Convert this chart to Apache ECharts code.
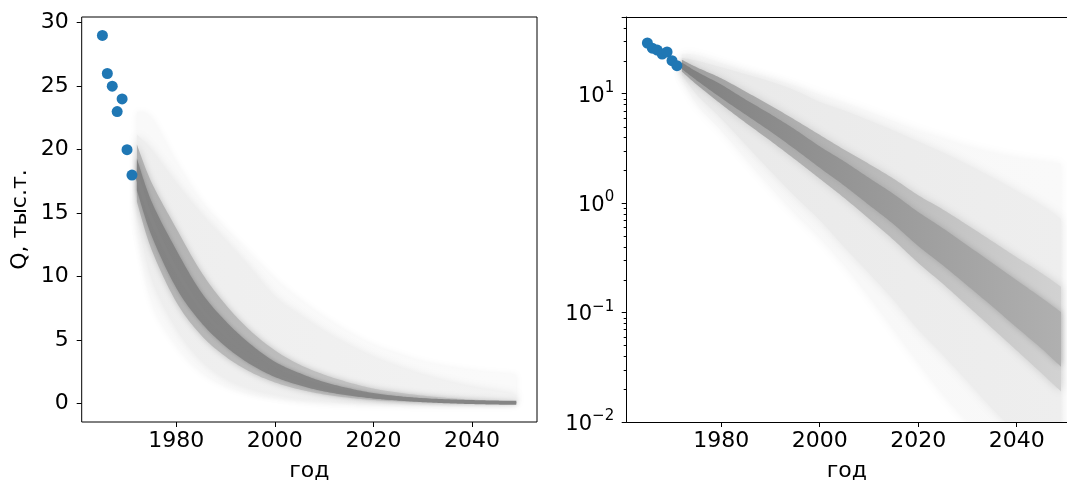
<!DOCTYPE html>
<html><head><meta charset="utf-8">
<script src="https://cdn.jsdelivr.net/npm/echarts@6/dist/echarts.min.js"></script>
<style>html,body{margin:0;padding:0;background:#fff;overflow:hidden}#c{width:1067px;height:487px}</style>
</head><body><div id="c"></div>
<script>
// observed data
const obsYears = [1965, 1966, 1967, 1968, 1969, 1970, 1971];
const obsQ = [29, 26, 25, 23, 24, 20, 18];
// simulated trajectories, summarised as bands
const simYears = [1972, 1975, 1980, 1985, 1990, 1995, 2000, 2005, 2010, 2015, 2020, 2025, 2030, 2035, 2040, 2045, 2049];
const simMedian = [18, 14.5, 10.5, 7.5, 5.4, 3.8, 2.65, 1.85, 1.28, 0.88, 0.58, 0.4, 0.27, 0.18, 0.12, 0.08, 0.057];
const coreLo = [16.8, 13.2, 9.1, 6.4, 4.5, 3.1, 2.1, 1.44, 0.96, 0.64, 0.405, 0.27, 0.176, 0.114, 0.073, 0.047, 0.032];
const coreHi = [19.3, 15.9, 12.1, 8.8, 6.5, 4.7, 3.3, 2.4, 1.7, 1.21, 0.83, 0.59, 0.41, 0.285, 0.197, 0.137, 0.101];
const midLo = [15.9, 12.1, 8.0, 5.4, 3.7, 2.5, 1.67, 1.11, 0.72, 0.46, 0.284, 0.183, 0.115, 0.072, 0.045, 0.028, 0.019];
const midHi = [20.4, 17.4, 13.8, 10.4, 7.8, 5.75, 4.2, 3.07, 2.28, 1.67, 1.18, 0.875, 0.63, 0.45, 0.32, 0.23, 0.172];
const wideLo = [14.8, 9.8, 5.9, 3.4, 1.96, 1.15, 0.70, 0.395, 0.228, 0.13, 0.07, 0.041, 0.0235, 0.0133, 0.0079, 0.0046, 0.0031];
const wideHi = [21.2, 20.0, 17.4, 15.0, 12.9, 10.7, 8.4, 7.0, 5.7, 4.6, 3.65, 2.9, 2.25, 1.72, 1.29, 0.96, 0.72];
const extLo = [13.8, 8, 4.6, 2.5, 1.4, 0.8, 0.48, 0.27, 0.14, 0.07, 0.035, 0.018, 0.01, 0.0055, 0.003, 0.002, 0.0012];
const extHi = [23, 22.5, 19, 16, 13.8, 11.8, 9.8, 8.2, 6.8, 5.6, 4.6, 3.9, 3.3, 2.9, 2.6, 2.4, 2.3];
// ticks
const xTicks = [1980, 2000, 2020, 2040];
const yTicksLin = [0, 5, 10, 15, 20, 25, 30];
const logMinorTicks = [0.02,0.03,0.04,0.05,0.06,0.07,0.08,0.09,0.2,0.3,0.4,0.5,0.6,0.7,0.8,0.9,2,3,4,5,6,7,8,9,20,30,40];

const X_MIN = 1960.8, X_MAX = 2053.2;
const X_MAX_R = 2050.22; // right panel is cut by the image edge
const FONT = 'DejaVu Sans';

function grad(a, b) {
  return new echarts.graphic.LinearGradient(0, 0, 1, 0, [{offset: 0, color: a}, {offset: 1, color: b}]);
}
// Catmull-Rom drawing of a pixel polyline (rendering only)
function spline(pts) {
  const out = [];
  const n = pts.length;
  for (let i = 0; i < n - 1; i++) {
    const p0 = pts[Math.max(i - 1, 0)], p1 = pts[i], p2 = pts[i + 1], p3 = pts[Math.min(i + 2, n - 1)];
    const steps = 14;
    for (let s = 0; s < steps; s++) {
      const t = s / steps, t2 = t * t, t3 = t2 * t;
      const f = (a, b, c, d) => 0.5 * ((2 * b) + (-a + c) * t + (2 * a - 5 * b + 4 * c - d) * t2 + (-a + 3 * b - 3 * c + d) * t3);
      out.push([f(p0[0], p1[0], p2[0], p3[0]), f(p0[1], p1[1], p2[1], p3[1])]);
    }
  }
  out.push(pts[n - 1].slice());
  return out;
}
function bandSeries(ax, lo, hi, cL, cR, blur, shadow) {
  return {type: 'custom', xAxisIndex: ax, yAxisIndex: ax, clip: true, silent: true,
    data: simYears.map((y, i) => [y, lo[i], hi[i]]),
    encode: {x: 0, y: [1, 2]},
    renderItem: function (params, api) {
      if (params.dataIndex !== 0) return null;
      const up = spline(simYears.map((y, i) => api.coord([y, hi[i]])));
      const dn = spline(simYears.map((y, i) => api.coord([y, lo[i]])));
      return {type: 'polygon', shape: {points: up.concat(dn.reverse())},
        style: {fill: grad(cL, cR), stroke: null, shadowBlur: blur, shadowColor: shadow}};
    }};
}
function medianSeries(ax, width, color) {
  return {type: 'custom', xAxisIndex: ax, yAxisIndex: ax, clip: true, silent: true,
    data: simYears.map((y, i) => [y, simMedian[i]]),
    renderItem: function (params, api) {
      if (params.dataIndex !== 0) return null;
      const pts = spline(simYears.map((y, i) => api.coord([y, simMedian[i]])));
      return {type: 'polyline', shape: {points: pts}, style: {stroke: color, lineWidth: width, fill: null}};
    }};
}

const tickStyle = {show: true, length: 5, inside: false, lineStyle: {color: '#000', width: 1}};
const labelStyle = {fontFamily: FONT, fontSize: 22, color: '#000'};
const spine = {show: true, onZero: false, lineStyle: {color: '#000', width: 1}};

function xAxis(gi, max, line) {
  return {type: 'value', gridIndex: gi, min: X_MIN, max: max,
    name: 'год', nameLocation: 'middle', nameGap: 38,
    nameTextStyle: {fontFamily: FONT, fontSize: 22, color: '#000'},
    axisLine: line ? spine : {show: false, onZero: false}, splitLine: {show: false},
    axisTick: Object.assign({}, tickStyle, {customValues: xTicks}),
    axisLabel: Object.assign({}, labelStyle, {margin: 8, customValues: xTicks, formatter: v => String(v)})};
}

const series = [];
// left (linear)
series.push(bandSeries(0, extLo, extHi, '#f9f9f9', '#fafafa', 6, 'rgba(240,240,240,0.8)'));
series.push(bandSeries(0, wideLo, wideHi, '#eeeeee', '#f2f2f2', 8, 'rgba(225,225,225,0.8)'));
series.push(bandSeries(0, midLo, midHi, '#b2b2b2', '#cdcdcd', 6, 'rgba(180,180,180,0.8)'));
series.push(bandSeries(0, coreLo, coreHi, '#838383', '#8a8a8a', 4, 'rgba(130,130,130,0.7)'));
series.push(medianSeries(0, 4, '#858585'));
series.push({type: 'scatter', xAxisIndex: 0, yAxisIndex: 0, symbolSize: 11, z: 10,
  itemStyle: {color: '#1f77b4', opacity: 1}, data: obsYears.map((y, i) => [y, obsQ[i]])});
// right (log)
series.push(bandSeries(1, extLo, extHi, '#f7f7f7', '#f9f9f9', 8, 'rgba(240,240,240,0.8)'));
series.push(bandSeries(1, wideLo, wideHi, '#e9e9e9', '#eeeeee', 10, 'rgba(225,225,225,0.8)'));
series.push(bandSeries(1, midLo, midHi, '#a0a0a0', '#d2d2d2', 8, 'rgba(195,195,195,0.8)'));
series.push(bandSeries(1, coreLo, coreHi, '#808080', '#b0b0b0', 6, 'rgba(160,160,160,0.8)'));
series.push({type: 'scatter', xAxisIndex: 1, yAxisIndex: 1, symbolSize: 11, z: 10,
  itemStyle: {color: '#1f77b4', opacity: 1}, data: obsYears.map((y, i) => [y, obsQ[i]])});
series.push({type: 'custom', xAxisIndex: 1, yAxisIndex: 1, clip: false, silent: true, z: 5,
  data: logMinorTicks.map(v => [X_MIN, v]),
  renderItem: function (params, api) {
    const p = api.coord([api.value(0), api.value(1)]);
    const y = Math.round(p[1]) + 0.5;
    return {type: 'line', shape: {x1: p[0] - 3, y1: y, x2: p[0], y2: y}, style: {stroke: '#000', lineWidth: 1}};
  }});

const option = {
  animation: false,
  backgroundColor: '#fff',
  grid: [
    {left: 81.7, width: 455.3, top: 17, height: 408, show: true, borderColor: '#000', borderWidth: 1, backgroundColor: 'transparent'},
    {left: 626.7, right: 0, top: 17, height: 408, show: false}
  ],
  xAxis: [
    xAxis(0, X_MAX, false),
    xAxis(1, X_MAX_R, true),
    {type: 'value', gridIndex: 1, position: 'top', min: X_MIN, max: X_MAX_R,
      axisLine: spine, axisTick: {show: false}, axisLabel: {show: false}, splitLine: {show: false}}
  ],
  yAxis: [
    {type: 'value', gridIndex: 0, min: -1.45, max: 30.45,
      name: 'Q, тыс.т.', nameLocation: 'middle', nameGap: 50, nameRotate: 90,
      nameTextStyle: {fontFamily: FONT, fontSize: 22, color: '#000'},
      axisLine: {show: false, onZero: false}, splitLine: {show: false},
      axisTick: Object.assign({}, tickStyle, {customValues: yTicksLin}),
      axisLabel: Object.assign({}, labelStyle, {margin: 13, customValues: yTicksLin})},
    {type: 'log', logBase: 10, gridIndex: 1, min: 0.01, max: 50.1,
      axisLine: spine, splitLine: {show: false}, minorTick: {show: false},
      axisTick: tickStyle,
      axisLabel: {margin: 12.5, color: '#000', fontFamily: FONT,
        formatter: function (v) {
          const e = Math.log10(v), r = Math.round(e);
          if (Math.abs(e - r) > 1e-6) return '';
          return '{b|10}{s|' + (r < 0 ? '\u2212' + (-r) : r) + '}';
        },
        rich: {
          b: {fontFamily: FONT, fontSize: 21, color: '#000', lineHeight: 26, verticalAlign: 'bottom'},
          s: {fontFamily: FONT, fontSize: 15, color: '#000', lineHeight: 16, verticalAlign: 'top'}
        }}}
  ],
  series: series
};
const chart = echarts.init(document.getElementById('c'), null, {renderer: 'canvas'});
chart.setOption(option);
</script></body></html>
